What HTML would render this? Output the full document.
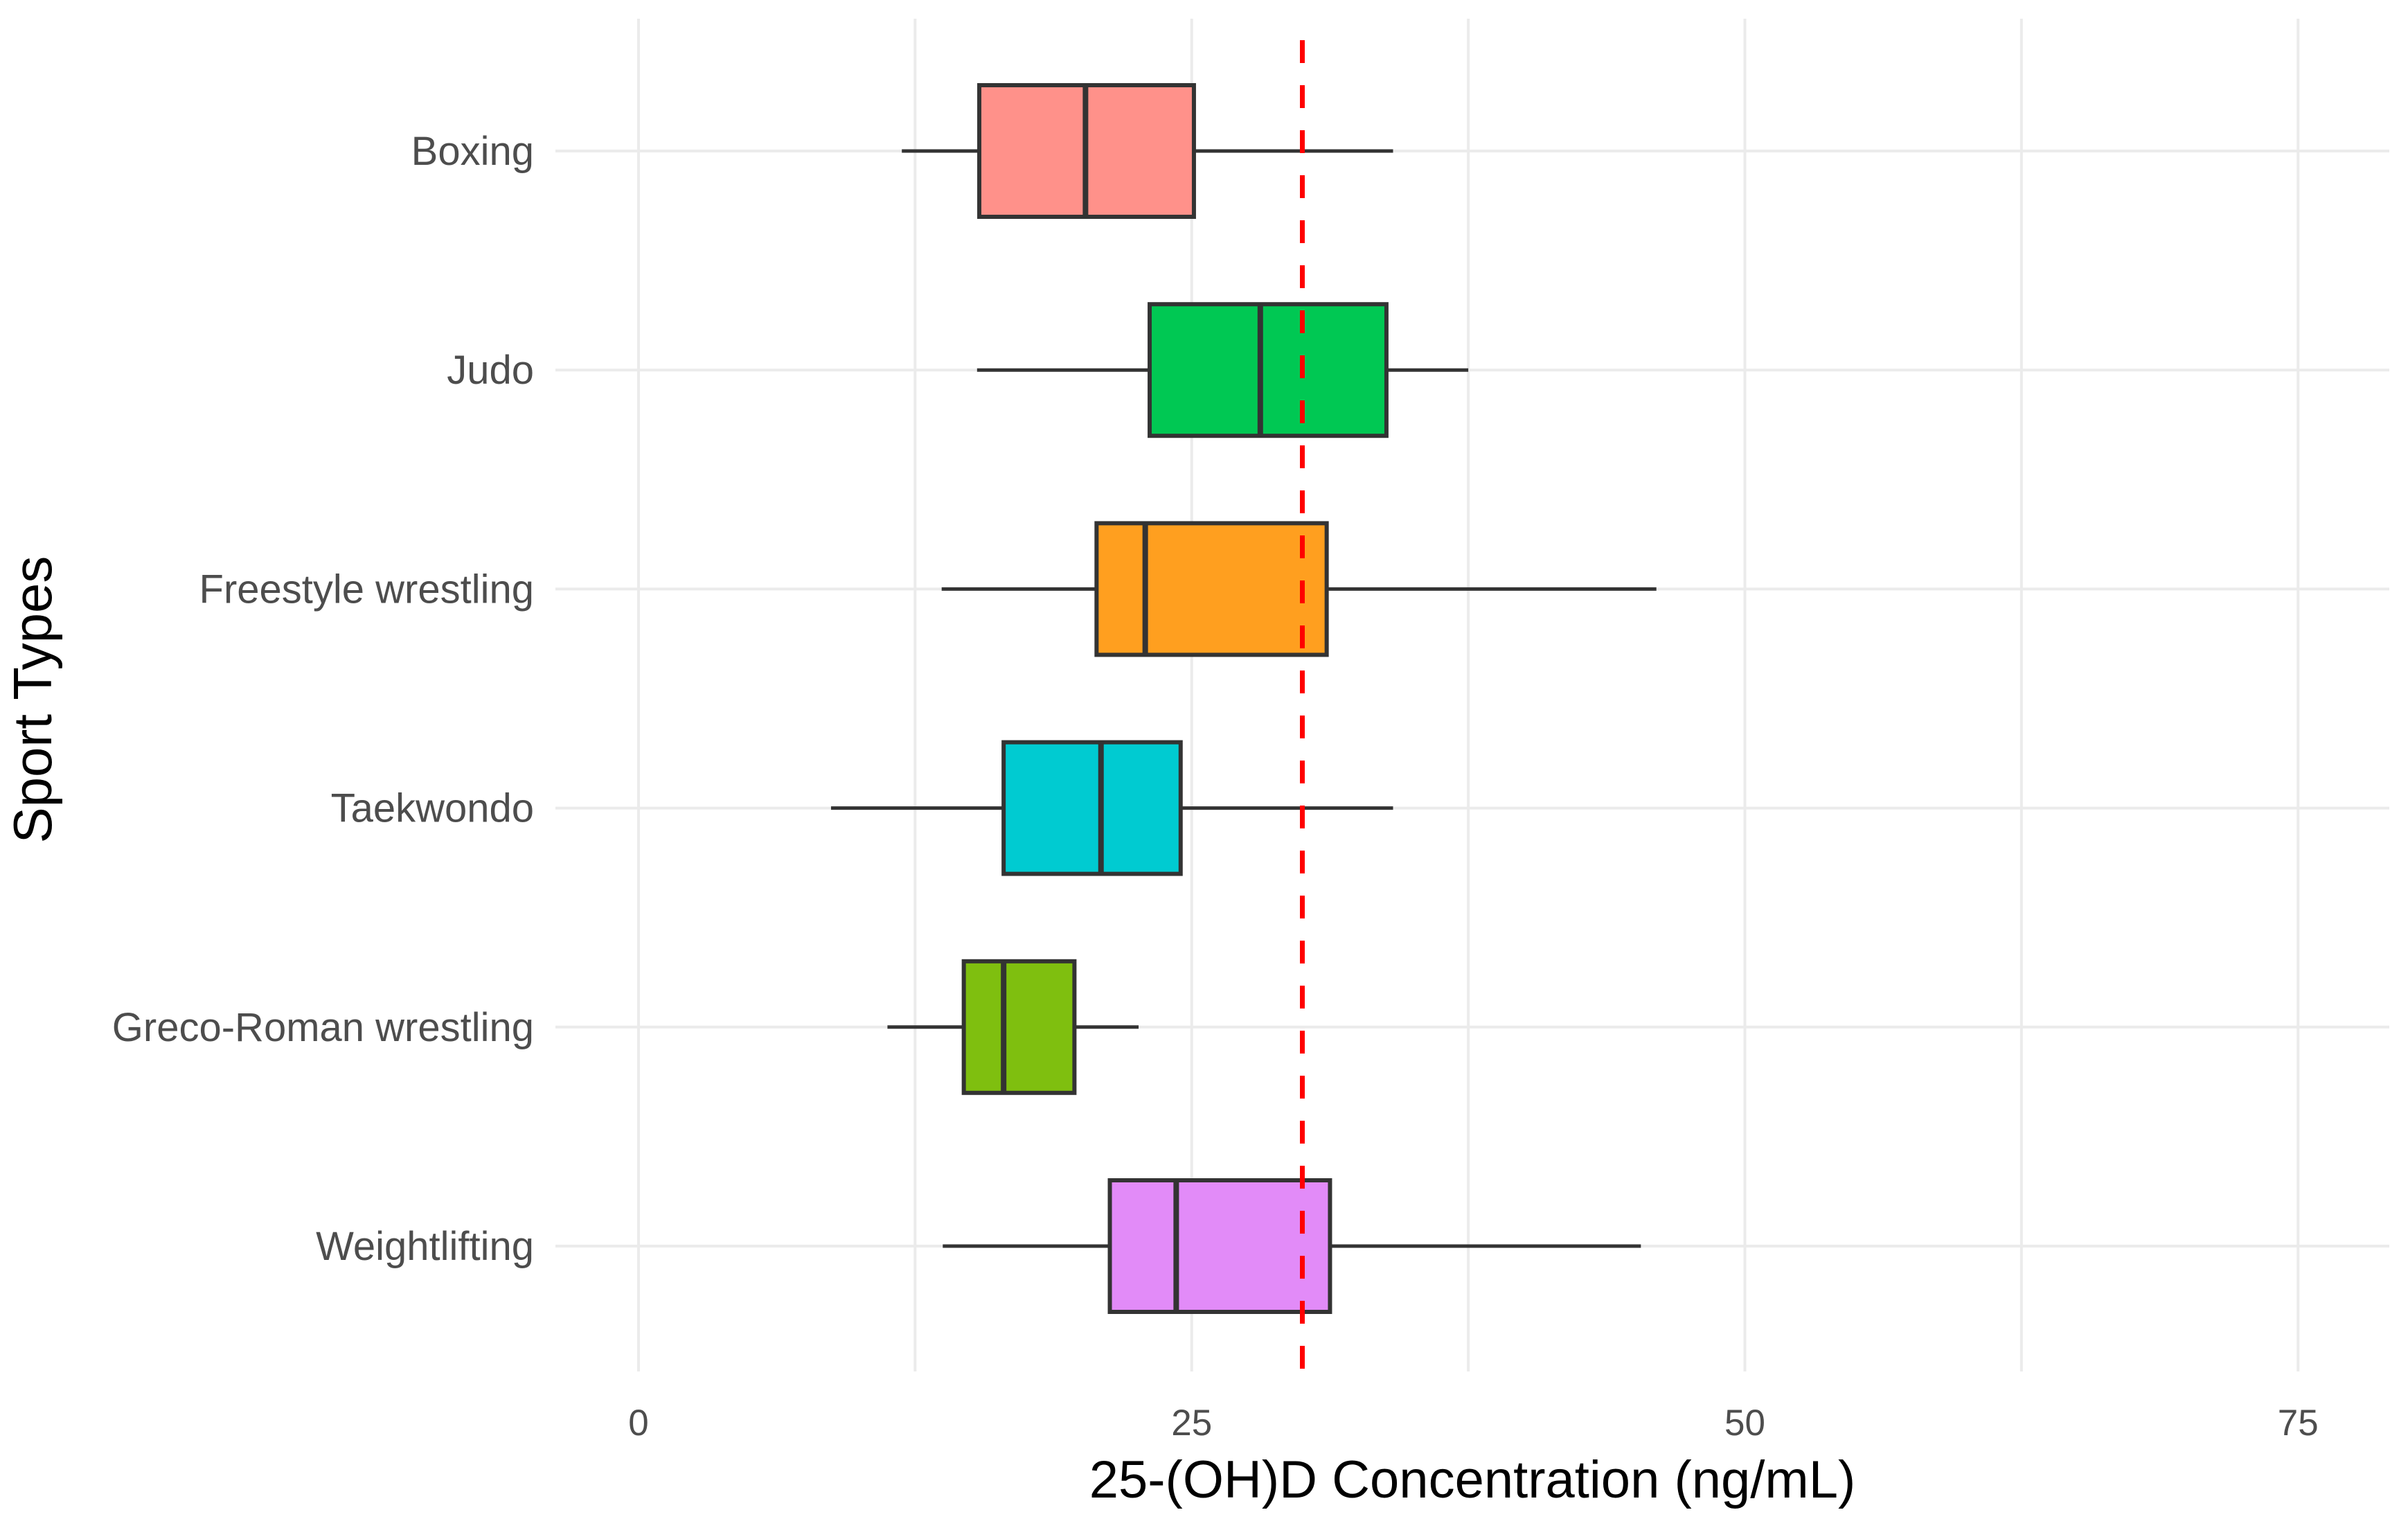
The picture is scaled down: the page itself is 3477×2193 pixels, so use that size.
<!DOCTYPE html>
<html><head><meta charset="utf-8"><style>
html,body{margin:0;padding:0;background:#fff}
svg{display:block;font-family:"Liberation Sans",Arial,sans-serif}
</style></head><body>
<svg id="chart" width="3477" height="2193" viewBox="0 0 3477 2193" xmlns="http://www.w3.org/2000/svg">
<g id="grid"></g>
<g id="marks"></g>
<g id="ref"></g>
<g id="labels"></g>
<text x="2126" y="2162" font-size="76" text-anchor="middle" fill="#000">25-(OH)D Concentration (ng/mL)</text>
<text x="0" y="0" transform="translate(74,1010) rotate(-90)" font-size="78" text-anchor="middle" fill="#000">Sport Types</text>
</svg>
<script>
const categories = ["Boxing","Judo","Freestyle wrestling","Taekwondo","Greco-Roman wrestling","Weightlifting"];
const whiskerLow = [11.9,15.3,13.7,8.7,11.25,13.75];
const q1 = [15.4,23.1,20.7,16.5,14.7,21.3];
const median = [20.2,28.1,22.9,20.9,16.5,24.3];
const q3 = [25.1,33.8,31.1,24.5,19.7,31.25];
const whiskerHigh = [34.1,37.5,46.0,34.1,22.6,45.3];
const fills = ["#ff918a","#00c853","#ff9f1f","#00cbd1","#7fbf0f","#e28bf8"];
const xTicks = [0,25,50,75];
const xMinor = [12.5,37.5,62.5];
const refValue = 30;

const NS = "http://www.w3.org/2000/svg";
const X = v => 922 + v * 31.95;
const Y = i => 218 + i * 316.2;
const plotTop = 27, plotBottom = 1980, plotLeft = 802, plotRight = 3450;
function el(tag, attrs, parent){const e=document.createElementNS(NS,tag);for(const k in attrs)e.setAttribute(k,attrs[k]);parent.appendChild(e);return e;}
const grid=document.getElementById('grid'), marks=document.getElementById('marks'), labels=document.getElementById('labels'), ref=document.getElementById('ref');

xMinor.concat(xTicks).forEach(v=>{
  const l=el('line',{x1:X(v),x2:X(v),y1:plotTop,y2:plotBottom,stroke:'#ebebeb','stroke-width':4},grid);
  
  
});
categories.forEach((c,i)=>{
  const l=el('line',{x1:plotLeft,x2:plotRight,y1:Y(i),y2:Y(i),stroke:'#ebebeb','stroke-width':4},grid);
  
  
});
xTicks.forEach(v=>{
  const t=el('text',{x:X(v),y:2072,'font-size':53,'text-anchor':'middle',fill:'#4d4d4d'},labels);
  t.textContent=v;
  
  
});
categories.forEach((c,i)=>{
  const t=el('text',{x:771,y:Y(i)+20,'font-size':58,'text-anchor':'end',fill:'#4d4d4d'},labels);
  t.textContent=c;
  
  
  const g=el('g',{},marks);
  
  
  el('line',{x1:X(whiskerLow[i]),x2:X(q1[i]),y1:Y(i),y2:Y(i),stroke:'#333','stroke-width':5},g);
  el('line',{x1:X(q3[i]),x2:X(whiskerHigh[i]),y1:Y(i),y2:Y(i),stroke:'#333','stroke-width':5},g);
  el('rect',{x:X(q1[i]),y:Y(i)-95,width:X(q3[i])-X(q1[i]),height:190,fill:fills[i],stroke:'#333','stroke-width':6},g);
  el('line',{x1:X(median[i]),x2:X(median[i]),y1:Y(i)-95,y2:Y(i)+95,stroke:'#333','stroke-width':8},g);
});
const r=el('line',{x1:X(refValue),x2:X(refValue),y1:58,y2:plotBottom,stroke:'#ff0000','stroke-width':7,'stroke-dasharray':'33 32'},ref);


</script>
</body></html>
